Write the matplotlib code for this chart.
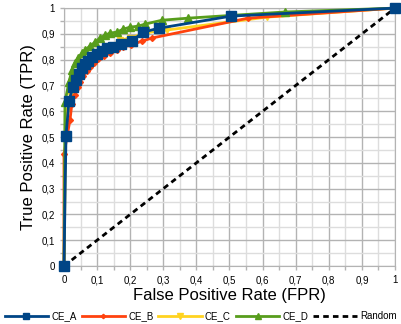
import numpy as np
import matplotlib.pyplot as plt
from matplotlib.ticker import MultipleLocator, FuncFormatter

# ROC points
fpr_a = [0.0, 0.006, 0.015, 0.027, 0.036, 0.045, 0.054, 0.063, 0.073, 0.085, 0.10, 0.115, 0.13, 0.148, 0.172, 0.205, 0.239, 0.287, 0.505, 1.0]
tpr_a = [0.0, 0.504, 0.64, 0.694, 0.721, 0.744, 0.767, 0.783, 0.795, 0.81, 0.822, 0.833, 0.845, 0.849, 0.86, 0.872, 0.907, 0.922, 0.969, 1.0]

fpr_b = [0.0, 0.0, 0.018, 0.024, 0.033, 0.042, 0.048, 0.057, 0.069, 0.079, 0.091, 0.103, 0.121, 0.139, 0.160, 0.178, 0.202, 0.236, 0.266, 0.556, 1.0]
tpr_b = [0.0, 0.434, 0.566, 0.63, 0.663, 0.694, 0.713, 0.736, 0.756, 0.771, 0.787, 0.802, 0.814, 0.826, 0.837, 0.849, 0.857, 0.872, 0.884, 0.961, 1.0]

fpr_c = [0.0, 0.005, 0.01, 0.02, 0.03, 0.04, 0.05, 0.06, 0.075, 0.09, 0.105, 0.12, 0.14, 0.17, 0.20, 0.25, 0.311, 0.613, 1.0]
tpr_c = [0.0, 0.5, 0.6, 0.66, 0.70, 0.73, 0.75, 0.77, 0.79, 0.805, 0.82, 0.835, 0.85, 0.875, 0.885, 0.905, 0.915, 0.965, 1.0]

fpr_d = [0.0, 0.003, 0.015, 0.024, 0.033, 0.042, 0.054, 0.063, 0.079, 0.094, 0.109, 0.124, 0.139, 0.160, 0.178, 0.199, 0.224, 0.245, 0.296, 0.375, 0.668, 1.0]
tpr_d = [0.0, 0.636, 0.713, 0.76, 0.787, 0.806, 0.825, 0.837, 0.853, 0.868, 0.884, 0.895, 0.903, 0.907, 0.918, 0.926, 0.93, 0.938, 0.953, 0.961, 0.985, 1.0]

rand = [0.0, 1.0]

plt.rcParams['font.family'] = ['Liberation Sans', 'DejaVu Sans']

fig = plt.figure(figsize=(4.01, 3.24), dpi=100)
ax = fig.add_axes([0.1596, 0.179, 0.8254, 0.796])

l_a, = ax.plot(fpr_a, tpr_a, color='#004586', lw=2, marker='s', ms=6.5, zorder=6, label='CE_A', clip_on=False)
l_b, = ax.plot(fpr_b, tpr_b, color='#ff420e', lw=2, marker='D', ms=3, zorder=4, label='CE_B', clip_on=False)
l_c, = ax.plot(fpr_c, tpr_c, color='#ffd320', lw=2, marker='v', ms=5, zorder=3, label='CE_C', clip_on=False)
l_d, = ax.plot(fpr_d, tpr_d, color='#579d1c', lw=2, marker='^', ms=5.5, zorder=5, label='CE_D', clip_on=False)
l_r, = ax.plot(rand, rand, color='black', lw=2, ls=(0, (2, 1.5)), zorder=2, label='Random')

ax.set_xlim(0, 1)
ax.set_ylim(0, 1)
ax.xaxis.set_major_locator(MultipleLocator(0.1))
ax.yaxis.set_major_locator(MultipleLocator(0.1))
ax.xaxis.set_minor_locator(MultipleLocator(0.05))
ax.yaxis.set_minor_locator(MultipleLocator(0.05))
fmt = FuncFormatter(lambda v, p: ('%g' % round(v, 2)).replace('.', ','))
ax.xaxis.set_major_formatter(fmt)
ax.yaxis.set_major_formatter(fmt)

ax.grid(which='major', color='#b3b3b3', lw=1)
ax.grid(which='minor', color='#dddddd', lw=1)
ax.set_axisbelow(True)
for s in ax.spines.values():
    s.set_color('#b3b3b3')
ax.tick_params(which='both', colors='#b3b3b3', labelcolor='black', labelsize=7, length=3, width=1)

ax.set_xlabel('False Positive Rate (FPR)', fontsize=12, labelpad=2)
ax.set_ylabel('True Positive Rate (TPR)', fontsize=12, labelpad=4)

fig.legend(handles=[l_a, l_b, l_c, l_d, l_r], loc='lower center', bbox_to_anchor=(0.5, -0.01),
           ncol=5, frameon=False, fontsize=7, handlelength=4.5, handletextpad=0.3,
           columnspacing=0.5, borderaxespad=0.2, markerscale=0.75)

fig.savefig('out.png', dpi=100)
